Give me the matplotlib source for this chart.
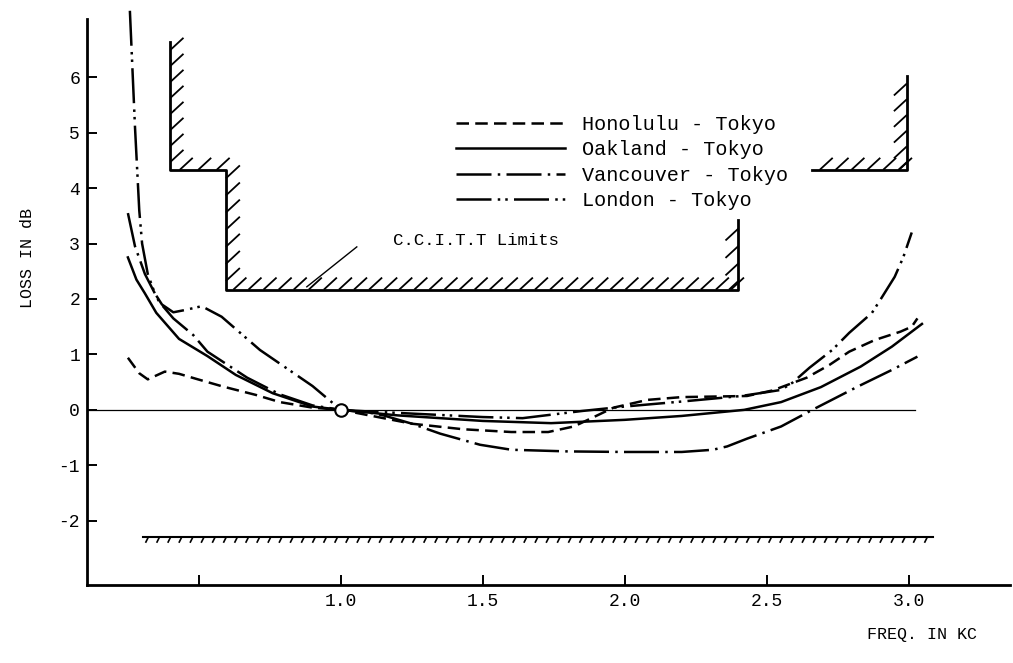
import numpy as np
import matplotlib
matplotlib.use("Agg")
import matplotlib.pyplot as plt

# frequency (kc) / loss (dB)
hon_f = [0.25, 0.29, 0.32, 0.35, 0.38, 0.43, 0.49, 0.585, 0.70, 0.785, 0.90, 1.0,
         1.1, 1.25, 1.43, 1.6, 1.73, 1.82, 1.87, 1.96, 2.08, 2.2, 2.43, 2.52,
         2.64, 2.72, 2.79, 2.88, 2.97, 3.01, 3.03]
hon_db = [0.94, 0.66, 0.55, 0.62, 0.69, 0.65, 0.56, 0.42, 0.27, 0.14, 0.04, 0.0,
          -0.1, -0.25, -0.35, -0.4, -0.4, -0.3, -0.18, 0.04, 0.18, 0.23, 0.25, 0.35,
          0.58, 0.81, 1.05, 1.26, 1.41, 1.5, 1.65]

oak_f = [0.25, 0.28, 0.31, 0.35, 0.43, 0.53, 0.63, 0.76, 0.90, 1.0,
         1.2, 1.5, 1.74, 2.0, 2.2, 2.42, 2.55, 2.69, 2.83, 2.94, 3.046]
oak_db = [2.75, 2.35, 2.1, 1.75, 1.28, 0.97, 0.63, 0.3, 0.06, 0.0,
          -0.1, -0.2, -0.24, -0.18, -0.11, 0.0, 0.14, 0.41, 0.78, 1.14, 1.55]

van_f = [0.25, 0.275, 0.31, 0.36, 0.41, 0.48, 0.53, 0.67, 0.785, 0.9, 1.0,
         1.1, 1.15, 1.25, 1.35, 1.49, 1.6, 1.8, 2.0, 2.2, 2.31, 2.36, 2.43,
         2.55, 2.66, 2.82, 2.94, 3.03]
van_db = [3.55, 2.95, 2.45, 1.95, 1.65, 1.35, 1.05, 0.58, 0.28, 0.08, 0.0,
          -0.05, -0.1, -0.25, -0.43, -0.63, -0.72, -0.75, -0.76, -0.76, -0.72, -0.66, -0.52,
          -0.3, 0.0, 0.42, 0.72, 0.96]

lon_f = [0.257, 0.275, 0.29, 0.30, 0.32, 0.345, 0.37, 0.41, 0.45, 0.51, 0.58,
         0.715, 0.9, 1.0, 1.1, 1.3, 1.5, 1.64, 1.72, 1.85, 2.0, 2.2, 2.41, 2.5,
         2.55, 2.59, 2.65, 2.73, 2.79, 2.87, 2.90, 2.95, 2.98, 3.01]
lon_db = [7.2, 5.1, 3.6, 3.0, 2.45, 2.1, 1.9, 1.76, 1.8, 1.87, 1.68,
          1.08, 0.43, 0.0, -0.03, -0.08, -0.13, -0.15, -0.1, -0.02, 0.06, 0.15, 0.25, 0.32,
          0.36, 0.49, 0.76, 1.08, 1.39, 1.75, 1.99, 2.4, 2.75, 3.2]

labels = ["Honolulu - Tokyo", "Oakland - Tokyo", "Vancouver - Tokyo", "London - Tokyo"]

# C.C.I.T.T. limits
upper_f = [0.40, 0.40, 0.595, 0.595, 2.40, 2.40]
upper_db = [6.64, 4.33, 4.33, 2.17, 2.17, 3.43]
upper_r_f = [2.658, 2.993, 2.993]
upper_r_db = [4.33, 4.33, 6.03]
lower_f = [0.303, 3.085]
lower_db = [-2.29, -2.29]

xticks = [0.5, 1.0, 1.5, 2.0, 2.5, 3.0]
xticklabels = ["", "1.0", "1.5", "2.0", "2.5", "3.0"]
yticks = [-2, -1, 0, 1, 2, 3, 4, 5, 6]

FONT = "Liberation Mono"
plt.rcParams["font.family"] = FONT

fig = plt.figure(figsize=(10.13, 6.63), dpi=100)
ax = fig.add_axes([87 / 1013, 1 - 585 / 663, (1010 - 87) / 1013, (585 - 8) / 663])
ax.set_xlim(0.106, 3.356)
ax.set_ylim(-3.16, 7.25)

# px per data unit, for the short hatch strokes
sx = (3.356 - 0.106) / (1010 - 87)
sy = (7.25 + 3.16) / (585 - 8)


def hatch(x0, x1, y0, y1, dxp, dyp, step=15, lw=1.3, clip_end=False):
    length = np.hypot((x1 - x0) / sx, (y1 - y0) / sy)
    n = int(length / step)
    for t in (np.arange(n) + 0.5) / n:
        bx = x0 + (x1 - x0) * t
        by = y0 + (y1 - y0) * t
        k = 1.0
        if clip_end:
            # keep strokes from running past the corner
            k = min(1.0, (1 - t) * length / abs(dyp))
        ax.plot([bx, bx + k * dxp * sx], [by, by + k * dyp * sy], color="black", lw=lw,
                solid_capstyle="butt")


ax.plot(upper_f, upper_db, color="black", lw=2.0)
ax.plot(upper_r_f, upper_r_db, color="black", lw=2.0)
ax.plot(lower_f, lower_db, color="black", lw=1.5)

# hatch marks
hatch(upper_f[0], upper_f[1], upper_db[0], upper_db[1], 13, 12)
hatch(upper_f[1], upper_f[2], upper_db[1], upper_db[2], 13, 12)
hatch(upper_f[2], upper_f[3], upper_db[2], upper_db[3], 14, 13)
hatch(upper_f[3], upper_f[4], upper_db[3], upper_db[4], 13, 12)
hatch(upper_f[5], upper_f[4], upper_db[5], upper_db[4], -13, -12, clip_end=True)
hatch(upper_r_f[0], upper_r_f[1], upper_r_db[0], upper_r_db[1], 13, 12)
hatch(upper_r_f[2], upper_r_f[1], upper_r_db[2], upper_r_db[1], -13, -12, clip_end=True)
hatch(lower_f[0], lower_f[1], lower_db[0], lower_db[1], -3, -6, step=11, lw=1.2)

# zero reference line and 1 kc point
ax.plot([0.106, 3.02], [0, 0], color="black", lw=0.9)

lw = 1.8
ax.plot(hon_f, hon_db, color="black", lw=lw, linestyle=(0, (5, 2.5)), label=labels[0])
ax.plot(oak_f, oak_db, color="black", lw=lw, linestyle="-", label=labels[1])
ax.plot(van_f, van_db, color="black", lw=lw, linestyle=(0, (14, 2.5, 1, 2.5)), label=labels[2])
ax.plot(lon_f, lon_db, color="black", lw=lw, linestyle=(0, (14, 2.5, 1, 2, 1, 2.5)),
        label=labels[3], clip_on=False)
ax.plot([1.0], [0.0], marker="o", markersize=9, markerfacecolor="white",
        markeredgecolor="black", markeredgewidth=1.5, zorder=5)

# C.C.I.T.T. label with leader
ax.plot([0.88, 1.056], [2.22, 2.94], color="black", lw=1.0)
ax.text(1.183, 3.05, "C.C.I.T.T Limits", fontsize=12.5, va="center", ha="left")

leg = ax.legend(loc="upper left", bbox_to_anchor=(456 / 1013, 1 - 115 / 663),
                bbox_transform=fig.transFigure, frameon=False, fontsize=14.5,
                handlelength=5.4, handletextpad=0.85, labelspacing=0.32,
                borderpad=0, borderaxespad=0)

for side in ["top", "right"]:
    ax.spines[side].set_visible(False)
ax.spines["left"].set_linewidth(2)
ax.spines["bottom"].set_linewidth(2)
ax.spines["left"].set_bounds(-3.16, 7.05)

ax.set_xticks(xticks)
ax.set_xticklabels(xticklabels)
ax.set_yticks(yticks)
ax.set_yticklabels([str(v) for v in yticks])
ax.tick_params(direction="in", length=7, width=1.4, labelsize=13, pad=5)
ax.tick_params(axis="x", pad=6)

fig.text(27 / 1013, 1 - 258 / 663, "LOSS IN dB", rotation=90, fontsize=12,
         ha="center", va="center")
fig.text(922 / 1013, 1 - 634 / 663, "FREQ. IN KC", fontsize=12, ha="center", va="center")

fig.savefig("out.png", dpi=100)
